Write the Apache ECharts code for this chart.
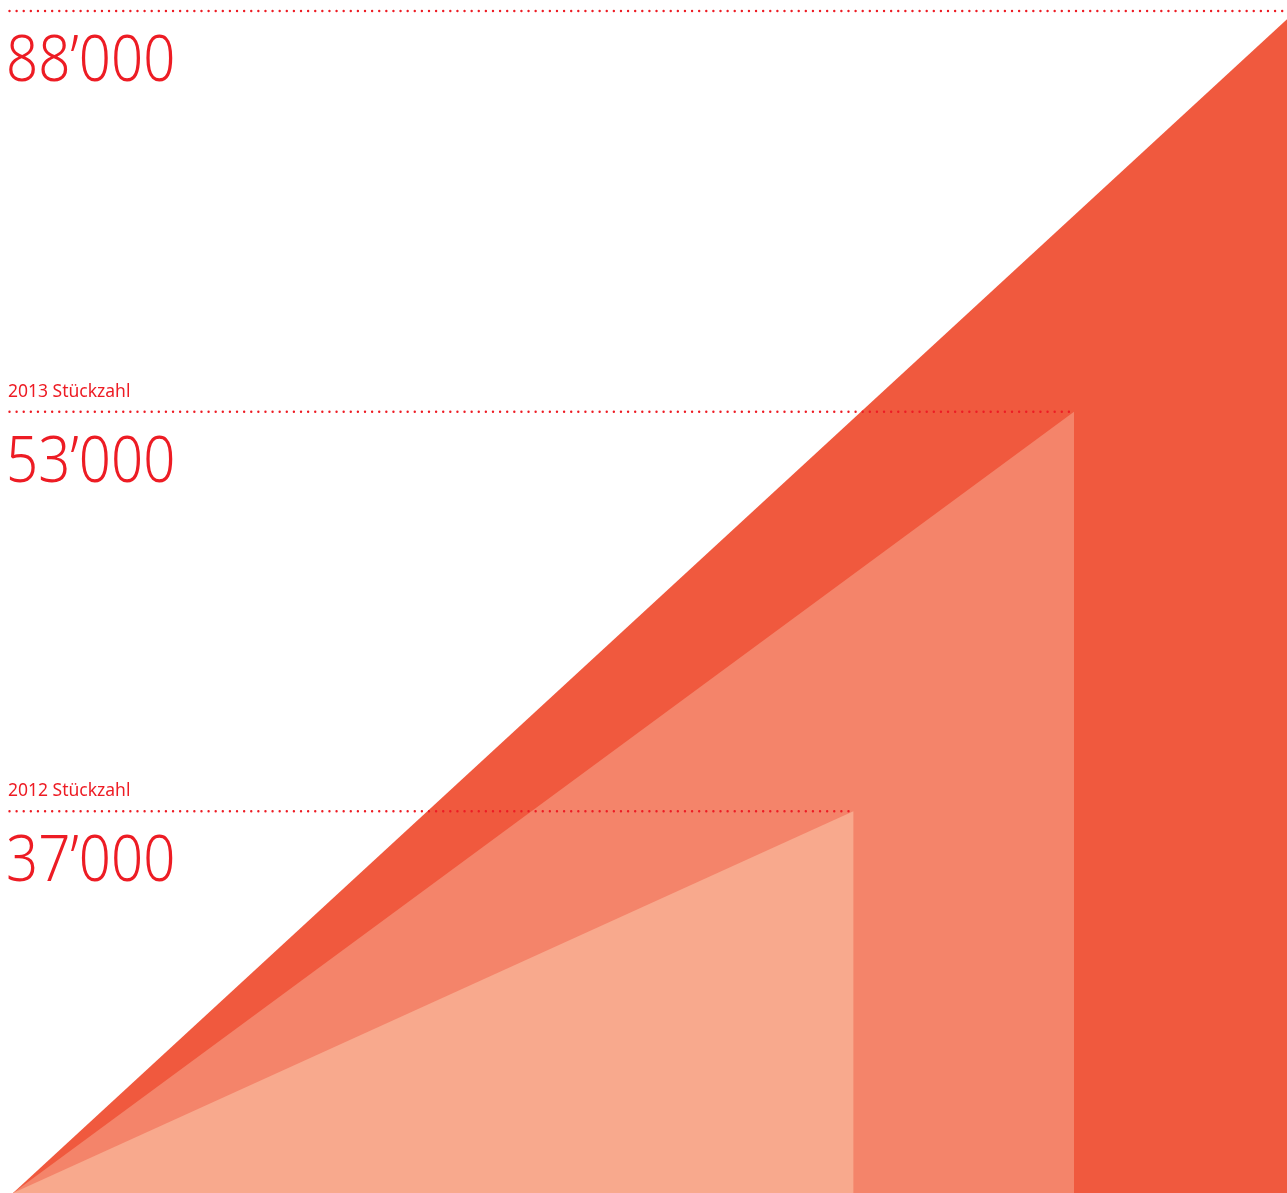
<!DOCTYPE html>
<html>
<head>
<meta charset="utf-8">
<script src="https://cdn.jsdelivr.net/npm/echarts@6/dist/echarts.min.js"></script>
<style>
html,body{margin:0;padding:0;background:#fff;}
#chart{width:1287px;height:1193px;}
</style>
</head>
<body>
<div id="chart"></div>
<script>
// Data
const yearLabels = ['', '2013 Stückzahl', '2012 Stückzahl'];
const unitValues = [88000, 53000, 37000];
const valueLabels = ['88’000', '53’000', '37’000'];
// drawn extent of each triangle on the (hidden) 0–100 axes
const triangleWidth = [100, 82.7, 65.5];
const triangleHeight = [100, 66.1, 32.3];
const colors = ['#F0593E', '#F4846A', '#F8A98D'];
const textRed = '#ED1C24';

const chart = echarts.init(document.getElementById('chart'), null, {renderer: 'canvas'});
const seriesData = triangleWidth.map((w, i) => ({value: [w, triangleHeight[i]], name: valueLabels[i], units: unitValues[i]}));

const option = {
  backgroundColor: '#ffffff',
  animation: false,
  grid: {left: 13, right: 0, top: 11, bottom: 0},
  xAxis: {type: 'value', min: 0, max: 99.3, show: false},
  yAxis: {type: 'value', min: 0, max: 100, show: false},
  series: [
    {
      type: 'custom',
      clip: false,
      data: seriesData,
      z: 1,
      renderItem: function (params, api) {
        const w = api.value(0), h = api.value(1);
        const o = api.coord([0, 0]);
        const a = api.coord([w, h]);
        const b = api.coord([w, 0]);
        return {
          type: 'polygon',
          shape: {points: [o, a, b]},
          style: {fill: colors[params.dataIndex]}
        };
      }
    },
    {
      type: 'custom',
      clip: false,
      data: seriesData,
      z: 2,
      renderItem: function (params, api) {
        const i = params.dataIndex;
        const w = api.value(0), h = api.value(1);
        const a = api.coord([w, h]);
        const o = api.coord([0, h]);
        const children = [
          {
            type: 'line',
            shape: {x1: o[0] - 3.5, y1: a[1], x2: a[0], y2: a[1]},
            style: {stroke: textRed, lineWidth: 2.4, lineDash: [0.01, 7.1], lineCap: 'round'}
          },
          {
            type: 'text',
            x: o[0] - 7, y: a[1] + 20,
            scaleX: 0.88,
            style: {
              x: 0, y: 0,
              text: valueLabels[i],
              fill: textRed,
              font: '300 64px "Noto Sans", sans-serif',
              verticalAlign: 'top', align: 'left', lineHeight: 64
            }
          }
        ];
        if (yearLabels[i]) {
          children.push({
            type: 'text',
            style: {
              x: o[0] - 5, y: a[1] - 11,
              text: yearLabels[i],
              fill: textRed,
              font: '17.5px "Noto Sans", sans-serif',
              verticalAlign: 'bottom', align: 'left'
            }
          });
        }
        return {type: 'group', children: children};
      }
    }
  ]
};
chart.setOption(option);
</script>
</body>
</html>
